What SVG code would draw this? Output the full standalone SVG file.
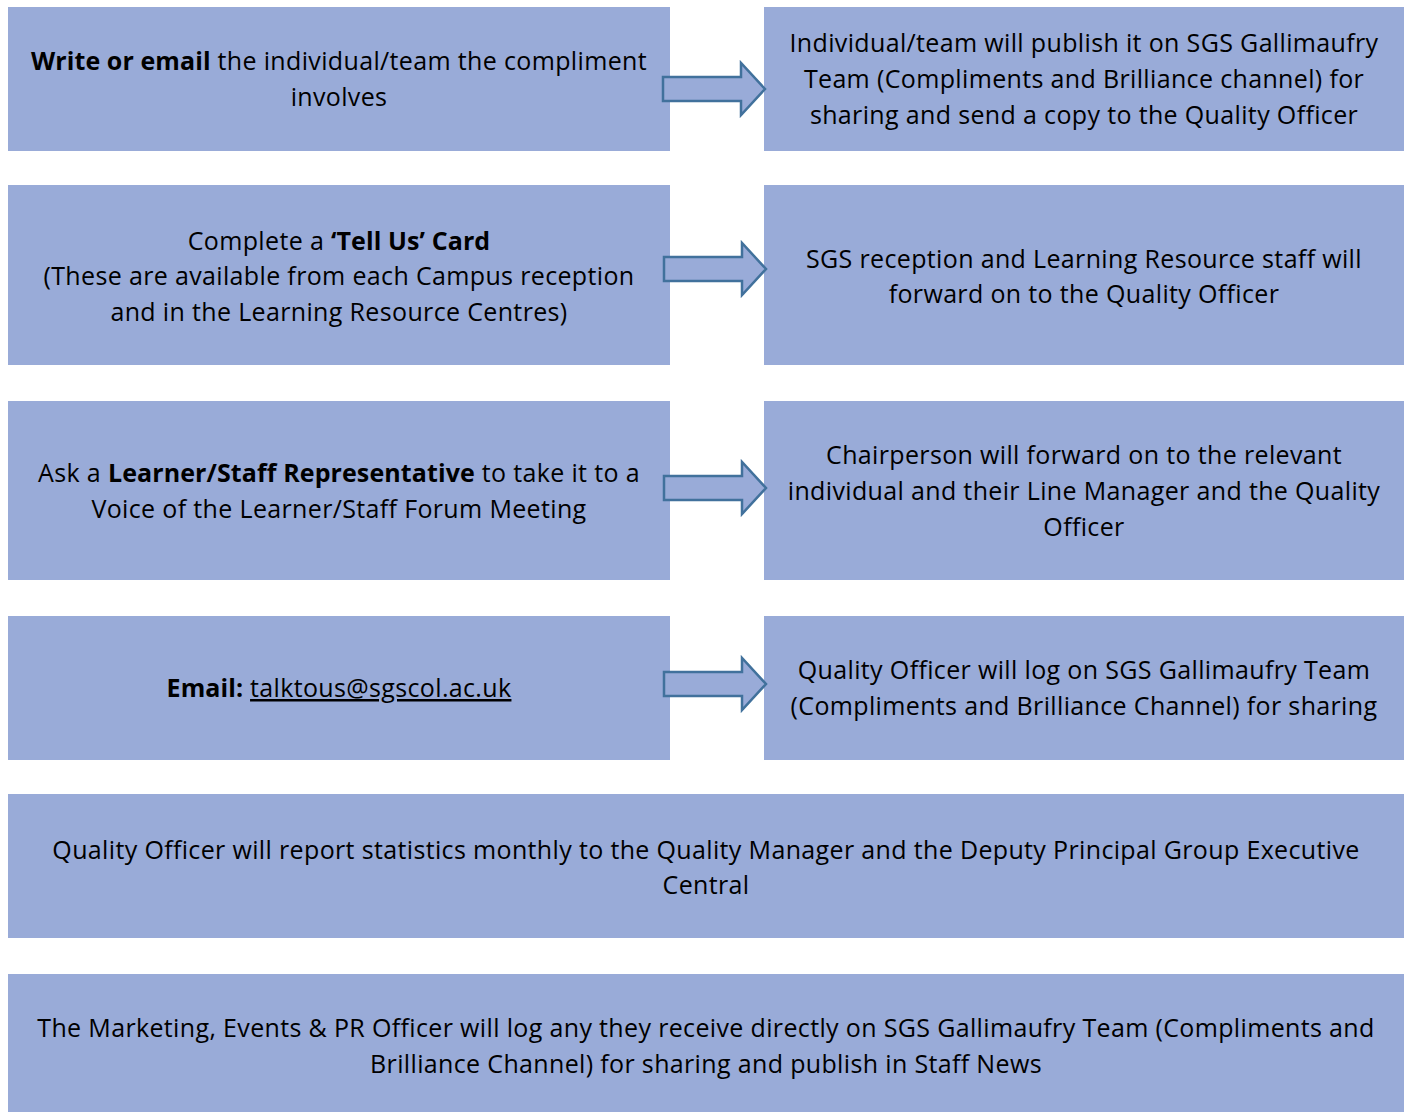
<svg xmlns="http://www.w3.org/2000/svg" width="1408" height="1112" viewBox="0 0 1408 1112">
<defs>
<style>
.box{fill:#99abd8;}
.arr{fill:#99abd8;stroke:#41719c;stroke-width:2.5;stroke-linejoin:miter;}
text{font-family:"Open Sans","Noto Sans",sans-serif;font-size:25px;letter-spacing:0.35px;fill:#000;text-anchor:middle;}
.b{font-weight:bold;letter-spacing:0.1px;}
</style>
<path id="arrow" class="arr" d="M0,-12 H78 V-26 L102,0 L78,26 V12 H0 Z"/>
</defs>
<rect width="1408" height="1112" fill="#fff"/>
<g id="n1"><rect class="box" x="8" y="7" width="662" height="144"/>
<text x="339" y="70"><tspan class="b">Write or email</tspan> the individual/team the compliment</text>
<text x="339" y="106">involves</text></g>
<g id="n2"><rect class="box" x="764" y="7" width="640" height="144"/>
<text x="1084" y="52">Individual/team will publish it on SGS Gallimaufry</text>
<text x="1084" y="88">Team (Compliments and Brilliance channel) for</text>
<text x="1084" y="124">sharing and send a copy to the Quality Officer</text></g>
<g id="n3"><rect class="box" x="8" y="185" width="662" height="180"/>
<text x="339" y="250">Complete a <tspan class="b">‘Tell Us’ Card</tspan></text>
<text x="339" y="285">(These are available from each Campus reception</text>
<text x="339" y="321">and in the Learning Resource Centres)</text></g>
<g id="n4"><rect class="box" x="764" y="185" width="640" height="180"/>
<text x="1084" y="268">SGS reception and Learning Resource staff will</text>
<text x="1084" y="303">forward on to the Quality Officer</text></g>
<g id="n5"><rect class="box" x="8" y="401" width="662" height="179"/>
<text x="339" y="482">Ask a <tspan class="b">Learner/Staff Representative</tspan> to take it to a</text>
<text x="339" y="518">Voice of the Learner/Staff Forum Meeting</text></g>
<g id="n6"><rect class="box" x="764" y="401" width="640" height="179"/>
<text x="1084" y="464">Chairperson will forward on to the relevant</text>
<text x="1084" y="500">individual and their Line Manager and the Quality</text>
<text x="1084" y="536">Officer</text></g>
<g id="n7"><rect class="box" x="8" y="616" width="662" height="144"/>
<text x="339" y="697"><tspan class="b">Email:</tspan> <tspan text-decoration="underline">talktous@sgscol.ac.uk</tspan></text></g>
<g id="n8"><rect class="box" x="764" y="616" width="640" height="144"/>
<text x="1084" y="679">Quality Officer will log on SGS Gallimaufry Team</text>
<text x="1084" y="715">(Compliments and Brilliance Channel) for sharing</text></g>
<g id="n9"><rect class="box" x="8" y="794" width="1396" height="144"/>
<text x="706" y="859">Quality Officer will report statistics monthly to the Quality Manager and the Deputy Principal Group Executive</text>
<text x="706" y="894">Central</text></g>
<g id="n10"><rect class="box" x="8" y="974" width="1396" height="138"/>
<text x="706" y="1037">The Marketing, Events &amp; PR Officer will log any they receive directly on SGS Gallimaufry Team (Compliments and</text>
<text x="706" y="1073">Brilliance Channel) for sharing and publish in Staff News</text></g>
<g id="connectors">
<use href="#arrow" x="663" y="89"/>
<use href="#arrow" x="664" y="269"/>
<use href="#arrow" x="664" y="488"/>
<use href="#arrow" x="664" y="684"/>
</g>
</svg>
